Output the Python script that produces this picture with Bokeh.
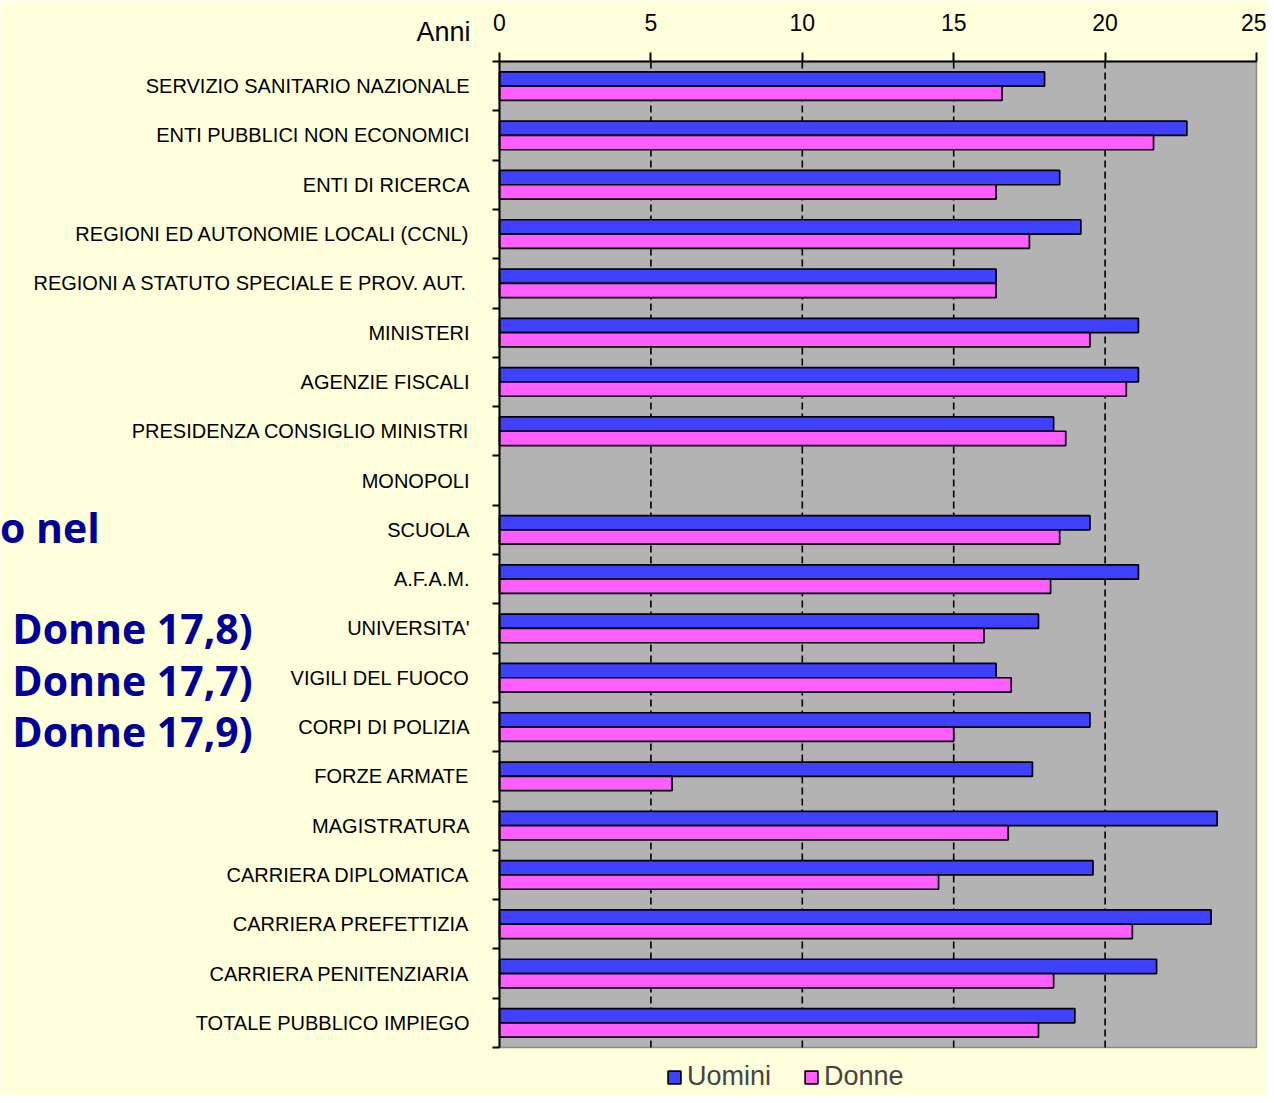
from bokeh.plotting import figure
from bokeh.models import (ColumnDataSource, Range1d, FixedTicker, Label, Legend, LegendItem)
from bokeh.transform import dodge
from bokeh.embed import file_html
from bokeh.resources import INLINE

nan = float("nan")

categories = [
    "SERVIZIO SANITARIO NAZIONALE",
    "ENTI PUBBLICI NON ECONOMICI",
    "ENTI DI RICERCA",
    "REGIONI ED AUTONOMIE LOCALI (CCNL)",
    "REGIONI A STATUTO SPECIALE E PROV. AUT.",
    "MINISTERI",
    "AGENZIE FISCALI",
    "PRESIDENZA CONSIGLIO MINISTRI",
    "MONOPOLI",
    "SCUOLA",
    "A.F.A.M.",
    "UNIVERSITA'",
    "VIGILI DEL FUOCO",
    "CORPI DI POLIZIA",
    "FORZE ARMATE",
    "MAGISTRATURA",
    "CARRIERA DIPLOMATICA",
    "CARRIERA PREFETTIZIA",
    "CARRIERA PENITENZIARIA",
    "TOTALE PUBBLICO IMPIEGO",
]
uomini = [18.0, 22.7, 18.5, 19.2, 16.4, 21.1, 21.1, 18.3, nan, 19.5,
          21.1, 17.8, 16.4, 19.5, 17.6, 23.7, 19.6, 23.5, 21.7, 19.0]
donne = [16.6, 21.6, 16.4, 17.5, 16.4, 19.5, 20.7, 18.7, nan, 18.5,
         18.2, 16.0, 16.9, 15.0, 5.7, 16.8, 14.5, 20.9, 18.3, 17.8]
x_ticks = [0, 5, 10, 15, 20, 25]
series_names = ["Uomini", "Donne"]
axis_caption = "Anni"
side_texts = ["o nel", "Donne 17,8)", "Donne 17,7)", "Donne 17,9)"]

n = len(categories)
ypos = [n - i - 0.5 for i in range(n)]
src = ColumnDataSource(dict(cat=categories, y=ypos, u=uomini, d=donne))

W, H = 1266, 1095
# frame covers the whole canvas; axes are pinned inside with fixed_location
x0px, x1px = 499.0, 1256.0
ytop_px, ybot_px = 61.0, 1047.0
xs = (x1px - x0px) / (x_ticks[-1] - x_ticks[0])
ysc = (ybot_px - ytop_px) / n
x_range = Range1d(x_ticks[0] - x0px / xs, x_ticks[-1] + (W - x1px) / xs)
y_range = Range1d(-(H - ybot_px) / ysc, n + ytop_px / ysc)

p = figure(width=W, height=H, x_range=x_range, y_range=y_range,
           output_backend="svg", toolbar_location=None, x_axis_location="above",
           min_border=0)
p.min_border_left = 0
p.min_border_right = 0
p.min_border_top = 0
p.min_border_bottom = 0
p.background_fill_color = "#ffffdc"
p.border_fill_color = "#ffffdc"
p.outline_line_color = None
p.xgrid.visible = False
p.ygrid.visible = False

# plot area
p.quad(left=x_ticks[0], right=x_ticks[-1], bottom=0, top=n,
       fill_color="#b3b3b3", line_color="#8a8a8a", line_width=1.5)

# dashed vertical gridlines
gx = x_ticks[1:-1]
p.segment(x0=gx, y0=[0] * len(gx), x1=gx, y1=[n] * len(gx),
          line_color="black", line_width=1.6, line_dash="7 4")

bh = 0.29
r1 = p.hbar(y=dodge("y", 0.145), left=0, right="u", height=bh,
            source=src, fill_color="#4040ff", line_color="black", line_width=1.7)
r2 = p.hbar(y=dodge("y", -0.145), left=0, right="d", height=bh,
            source=src, fill_color="#ff5eff", line_color="black", line_width=1.7)

# x axis (top), pinned at the top of the plot area
xa = p.xaxis[0]
xa.fixed_location = n
xa.bounds = (x_ticks[0], x_ticks[-1])
xa.ticker = FixedTicker(ticks=x_ticks)
xa.major_tick_out = 9
xa.major_tick_in = 0
xa.minor_tick_out = 0
xa.minor_tick_in = 0
xa.axis_line_color = "black"
xa.axis_line_width = 2
xa.major_tick_line_color = "black"
xa.major_tick_line_width = 2
xa.major_label_text_font = "Liberation Sans"
xa.major_label_text_font_size = "23px"
xa.major_label_text_color = "black"
xa.major_label_standoff = 22

# y axis (left) pinned at x=0, labels at category centres, ticks at boundaries
ya = p.yaxis[0]
ya.fixed_location = x_ticks[0]
ya.bounds = (0, n)
ya.ticker = FixedTicker(ticks=ypos, minor_ticks=list(range(n + 1)))
ya.major_label_overrides = {y: c for y, c in zip(ypos, categories)}
ya.major_tick_out = 0
ya.major_tick_in = 0
ya.minor_tick_out = 7
ya.minor_tick_in = 0
ya.minor_tick_line_color = "black"
ya.minor_tick_line_width = 2
ya.axis_line_color = "black"
ya.axis_line_width = 2
ya.major_label_text_font = "Liberation Sans"
ya.major_label_text_font_size = "20px"
ya.major_label_text_color = "black"
ya.major_label_standoff = 23

# axis caption
p.add_layout(Label(x=-0.96, y=n + 0.59, text=axis_caption, text_align="right",
                   text_baseline="alphabetic", text_font="Liberation Sans",
                   text_font_size="27px", text_color="black"))

# slide text visible behind the chart
blue_txt = "#000099"
p.add_layout(Label(x=-13.2, y=10.56, text=side_texts[0], text_align="right",
                   text_baseline="alphabetic", text_font="Open Sans",
                   text_font_style="bold", text_font_size="41px", text_color=blue_txt))
for t, yy in zip(side_texts[1:], [8.51, 7.46, 6.43]):
    p.add_layout(Label(x=-16.09, y=yy, text=t, text_align="left",
                       text_baseline="alphabetic", text_font="Open Sans",
                       text_font_style="bold", text_font_size="41px", text_color=blue_txt))

legend = Legend(items=[LegendItem(label=series_names[0], renderers=[r1]),
                       LegendItem(label=series_names[1], renderers=[r2])],
                orientation="horizontal", location=(666, 3), margin=0,
                background_fill_alpha=0, border_line_alpha=0, padding=0,
                spacing=32, label_standoff=5, glyph_width=16, glyph_height=16,
                label_text_font="Liberation Sans", label_text_font_size="27px",
                label_height=22)
p.add_layout(legend)

open("out.html", "w").write(file_html(p, INLINE))
